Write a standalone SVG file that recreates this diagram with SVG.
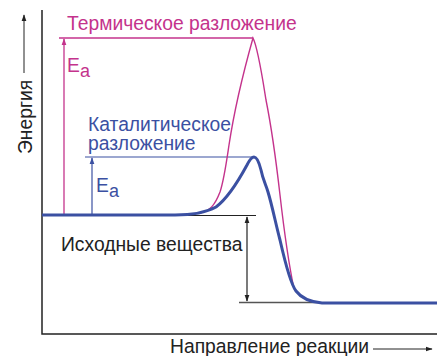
<svg xmlns="http://www.w3.org/2000/svg" width="437" height="356" viewBox="0 0 437 356">
<defs>
<style>
.t{font-family:"Liberation Sans",Arial,sans-serif;font-size:19.3px}
.m{fill:#c4338c}
.b{fill:#3b50a2}
.k{fill:#222}
</style>
<marker id="ak" viewBox="0 0 10 10" refX="9" refY="5" markerWidth="7" markerHeight="7" orient="auto-start-reverse" markerUnits="userSpaceOnUse"><path d="M0,1.5 L10,5 L0,8.5 Z" fill="#222"/></marker>
<marker id="am" viewBox="0 0 10 10" refX="9" refY="5" markerWidth="7" markerHeight="7" orient="auto" markerUnits="userSpaceOnUse"><path d="M0,1.5 L10,5 L0,8.5 Z" fill="#c4338c"/></marker>
<marker id="ab" viewBox="0 0 10 10" refX="9" refY="5" markerWidth="7" markerHeight="7" orient="auto" markerUnits="userSpaceOnUse"><path d="M0,1.5 L10,5 L0,8.5 Z" fill="#3b50a2"/></marker>
</defs>
<rect width="437" height="356" fill="#fff"/>
<g id="axes" fill="none" stroke="#222">
<path d="M42,10 V334 H437" stroke-width="1.5"/>
<path d="M24,73 V15" stroke-width="1" marker-end="url(#ak)"/>
<path d="M373,349 H432" stroke-width="1" marker-end="url(#ak)"/>
</g>
<g id="connectors" fill="none">
<path d="M59,38 H253" stroke="#c4338c" stroke-width="1.3"/>
<path d="M64,215 V39" stroke="#c4338c" stroke-width="1.3" marker-end="url(#am)"/>
<path d="M85,157 H253" stroke="#3b50a2" stroke-width="1.2"/>
<path d="M92,215 V158" stroke="#3b50a2" stroke-width="1.2" marker-end="url(#ab)"/>
<path d="M42,215.5 H256" stroke="#222" stroke-width="1.2"/>
<path d="M239,302.5 H320" stroke="#555" stroke-width="1.5"/>
<path d="M247,217 V301" stroke="#222" stroke-width="1.2" marker-start="url(#ak)" marker-end="url(#ak)"/>
</g>
<g id="thermal-curve">
<path d="M200,213 C210,211 215,205 220,192 C224,180 226,165 229,145 C234,112 244,70 253,38 C258,48 262,75 266,100 C271,125 276,160 280,195 C284,230 289,265 294,289" fill="none" stroke="#c4338c" stroke-width="1.4"/>
</g>
<g id="catalytic-curve">
<path d="M42,215 H175 C190,215 205,213 216,207 C228,198 240,178 247,165 C250,159 252,157 254,157 C257,157 259,162 261,170 C263,180 266,185 268,192 C272,205 276,225 280,240 C285,262 290,283 296,291 C302,299 310,302 322,303 H437" fill="none" stroke="#3b50a2" stroke-width="3" stroke-linejoin="round"/>
</g>
<g id="labels">
<text x="67" y="30" class="t m">Термическое разложение</text>
<text x="67" y="72" class="t m" font-size="20">E<tspan font-size="18" dy="5">a</tspan></text>
<text x="88" y="131" class="t b">Каталитическое</text>
<text x="88" y="150" class="t b">разложение</text>
<text x="96" y="192" class="t b" font-size="20">E<tspan font-size="18" dy="5">a</tspan></text>
<text x="61" y="251" class="t k">Исходные вещества</text>
<text x="170" y="353" class="t k" font-size="18.8">Направление реакции</text>
<text transform="translate(32,154) rotate(-90)" class="t k">Энергия</text>
</g>
</svg>
